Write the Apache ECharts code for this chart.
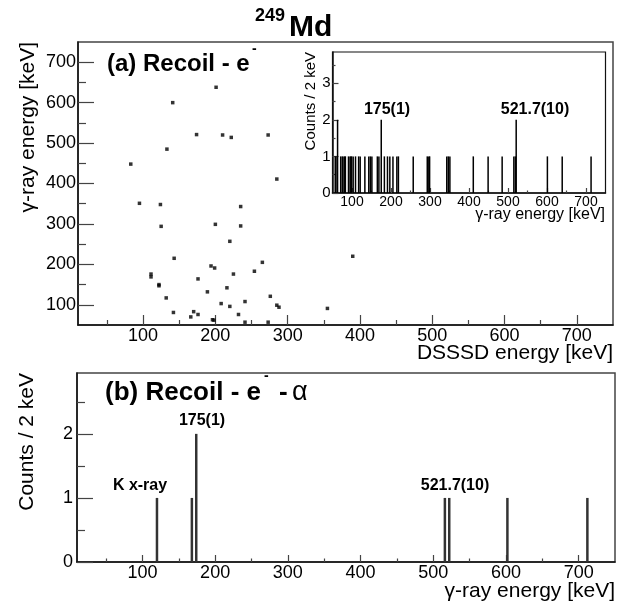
<!DOCTYPE html>
<html>
<head>
<meta charset="utf-8">
<script src="https://cdn.jsdelivr.net/npm/echarts@6/dist/echarts.min.js"></script>
<style>html,body{margin:0;padding:0;background:#fff}#c{width:627px;height:604px}</style>
</head>
<body>
<div id="c"></div>
<script>
// ---- data ----
// (a) scatter: DSSSD energy vs gamma-ray energy [keV]
const scatX = [83,133,141,174,201,210,222,273,285,95,124,125,200,235,235,220,143,194,199,111,111,122,122,176,216,189,132,208,142,170,176,166,196,198,265,225,254,390,276,241,220,285,288,355,232,241,273];
const scatY = [448,485,600,521,638,520,514,520,411,351,348,294,299,343,295,257,215,196,191,176,169,150,147,164,142,132,117,103,81,83,76,70,63,62,205,176,183,220,121,108,96,99,94,91,76,57,57];
// inset: gamma-ray energy histogram (2 keV bins), bin centre and counts
const insetE = [57,59,63,71,75,77,81,83,91,95,97,99,103,109,117,121,133,143,147,151,165,169,175,183,191,197,205,215,219,257,293,297,299,343,347,351,411,449,485,515,519,521,601,639,713];
const insetC = [1,1,2,1,1,1,1,1,1,1,1,1,1,1,1,1,1,1,1,1,1,1,2,1,1,1,1,1,1,1,1,1,1,1,1,1,1,1,1,1,1,2,1,1,1];
// (b) gamma-ray energy histogram
const specE = [120,168,174,516,522,602,712];
const specC = [1,1,2,1,1,1,1];
// tick values
const xMajor = [100,200,300,400,500,600,700];
const xMinor = [50,150,250,350,450,550,650];
const topYMajor = [100,200,300,400,500,600,700];
const topYMinor = [150,250,350,450,550,650];
const insetXMinor = [150,250,350,450,550,650];
const insetYMajor = [0,1,2,3];
const insetYMinor = [0.5,1.5,2.5,3.5];
const botYMajor = [0,1,2];
const botYMinor = [0.5,1.5,2.5];

const FONT = "'Liberation Sans', Arial, Helvetica, sans-serif";
const chart = echarts.init(document.getElementById('c'), null, {renderer:'canvas'});

function majorAxis(grid, min, max, vals, tickLen, fs, margin, extra) {
  return Object.assign({
    type:'value', gridIndex:grid, min:min, max:max,
    axisLine:{show:true, onZero:false, lineStyle:{color:'#111', width:1.5}},
    axisTick:{show:true, inside:true, length:tickLen, customValues:vals, lineStyle:{color:'#444', width:1.2}},
    axisLabel:{show:true, customValues:vals, fontSize:fs, margin:margin, color:'#000', fontFamily:FONT},
    splitLine:{show:false}
  }, extra||{});
}
function minorAxis(grid, min, max, vals, tickLen, extra) {
  return Object.assign({
    type:'value', gridIndex:grid, min:min, max:max,
    axisLine:{show:false, onZero:false},
    axisTick:{show:true, inside:true, length:tickLen, customValues:vals, lineStyle:{color:'#444', width:1.2}},
    axisLabel:{show:false},
    splitLine:{show:false}
  }, extra||{});
}

const option = {
  animation:false,
  backgroundColor:'#fff',
  title:[
    {text:'249', left:255, top:7, padding:0, textStyle:{fontSize:18, fontWeight:'bold', fontFamily:FONT, color:'#000'}},
    {text:'Md', left:289, top:13, padding:0, textStyle:{fontSize:30, fontWeight:'bold', fontFamily:FONT, color:'#000'}},
    {text:'(a) Recoil - e', left:107, top:52, padding:0, textStyle:{fontSize:24, fontWeight:'bold', fontFamily:FONT, color:'#000'}},
    {text:'-', left:252, top:42, padding:0, textStyle:{fontSize:14, fontWeight:'bold', fontFamily:FONT, color:'#000'}},
    {text:'(b) Recoil - e', left:105, top:380, padding:0, textStyle:{fontSize:26, fontWeight:'bold', fontFamily:FONT, color:'#000'}},
    {text:'-', left:264, top:369, padding:0, textStyle:{fontSize:14, fontWeight:'bold', fontFamily:FONT, color:'#000'}},
    {text:'-', left:279, top:380, padding:0, textStyle:{fontSize:26, fontWeight:'bold', fontFamily:FONT, color:'#000'}},
    {text:'α', left:292, top:379, padding:0, textStyle:{fontSize:27, fontWeight:'normal', fontFamily:FONT, color:'#000'}}
  ],
  grid:[
    {left:78, top:42, width:535, height:283, show:true, borderColor:'#444', borderWidth:1.5, backgroundColor:'transparent'},
    {left:332.5, top:52, width:273, height:141, show:true, borderColor:'#111', borderWidth:1.2, backgroundColor:'#fff'},
    {left:77, top:373, width:538, height:189, show:true, borderColor:'#444', borderWidth:1.5, backgroundColor:'transparent'}
  ],
  xAxis:[
    majorAxis(0, 10, 750, xMajor, 10, 18, 2, {position:'bottom'}),
    minorAxis(0, 10, 750, xMinor, 5, {position:'bottom'}),
    majorAxis(1, 50, 750, xMajor, 5, 14, 2, {position:'bottom'}),
    minorAxis(1, 50, 750, insetXMinor, 2.5, {position:'bottom'}),
    majorAxis(2, 10, 750, xMajor, 7, 18, 2, {position:'bottom'}),
    minorAxis(2, 10, 750, xMinor, 3.5, {position:'bottom'})
  ],
  yAxis:[
    majorAxis(0, 50, 750, topYMajor, 16, 18, 2, {position:'left'}),
    minorAxis(0, 50, 750, topYMinor, 8, {position:'left'}),
    majorAxis(1, 0, 3.85, insetYMajor, 6, 15, 2, {position:'left'}),
    minorAxis(1, 0, 3.85, insetYMinor, 3, {position:'left'}),
    majorAxis(2, 0, 2.95, botYMajor, 16, 18, 4, {position:'left'}),
    minorAxis(2, 0, 2.95, botYMinor, 8, {position:'left'})
  ],
  series:[
    {type:'scatter', xAxisIndex:0, yAxisIndex:0, symbol:'rect', symbolSize:3.5,
     itemStyle:{color:'#000'}, data:scatX.map((x,i)=>[x, scatY[i]]), z:2},
    {type:'bar', xAxisIndex:2, yAxisIndex:2, barWidth:1.5, itemStyle:{color:'#000'},
     data:insetE.map((e,i)=>[e, insetC[i]]), z:6},
    {type:'bar', xAxisIndex:4, yAxisIndex:4, barWidth:2.5, itemStyle:{color:'#333'},
     data:specE.map((e,i)=>[e, specC[i]])}
  ],
  graphic:[
    {type:'text', x:28, y:42, rotation:Math.PI/2, z:10,
     style:{text:'γ-ray energy [keV]', font:'21px '+FONT, fill:'#000', textAlign:'right', textVerticalAlign:'middle'}},
    {type:'text', x:613, y:353, z:10,
     style:{text:'DSSSD energy [keV]', font:'21px '+FONT, fill:'#000', textAlign:'right', textVerticalAlign:'middle'}},
    {type:'text', x:311, y:52, rotation:Math.PI/2, z:10,
     style:{text:'Counts / 2 keV', font:'15px '+FONT, fill:'#000', textAlign:'right', textVerticalAlign:'middle'}},
    {type:'text', x:605, y:215, z:10,
     style:{text:'γ-ray energy [keV]', font:'16px '+FONT, fill:'#000', textAlign:'right', textVerticalAlign:'middle'}},
    {type:'text', x:27, y:373, rotation:Math.PI/2, z:10,
     style:{text:'Counts / 2 keV', font:'21px '+FONT, fill:'#000', textAlign:'right', textVerticalAlign:'middle'}},
    {type:'text', x:615, y:591, z:10,
     style:{text:'γ-ray energy [keV]', font:'21px '+FONT, fill:'#000', textAlign:'right', textVerticalAlign:'middle'}},
    {type:'text', x:387, y:110, z:10,
     style:{text:'175(1)', font:'bold 16px '+FONT, fill:'#000', textAlign:'center', textVerticalAlign:'middle'}},
    {type:'text', x:535, y:110, z:10,
     style:{text:'521.7(10)', font:'bold 16px '+FONT, fill:'#000', textAlign:'center', textVerticalAlign:'middle'}},
    {type:'text', x:140, y:486, z:10,
     style:{text:'K x-ray', font:'bold 16px '+FONT, fill:'#000', textAlign:'center', textVerticalAlign:'middle'}},
    {type:'text', x:202, y:421, z:10,
     style:{text:'175(1)', font:'bold 16px '+FONT, fill:'#000', textAlign:'center', textVerticalAlign:'middle'}},
    {type:'text', x:455, y:486, z:10,
     style:{text:'521.7(10)', font:'bold 16px '+FONT, fill:'#000', textAlign:'center', textVerticalAlign:'middle'}}
  ]
};
chart.setOption(option);
</script>
</body>
</html>
